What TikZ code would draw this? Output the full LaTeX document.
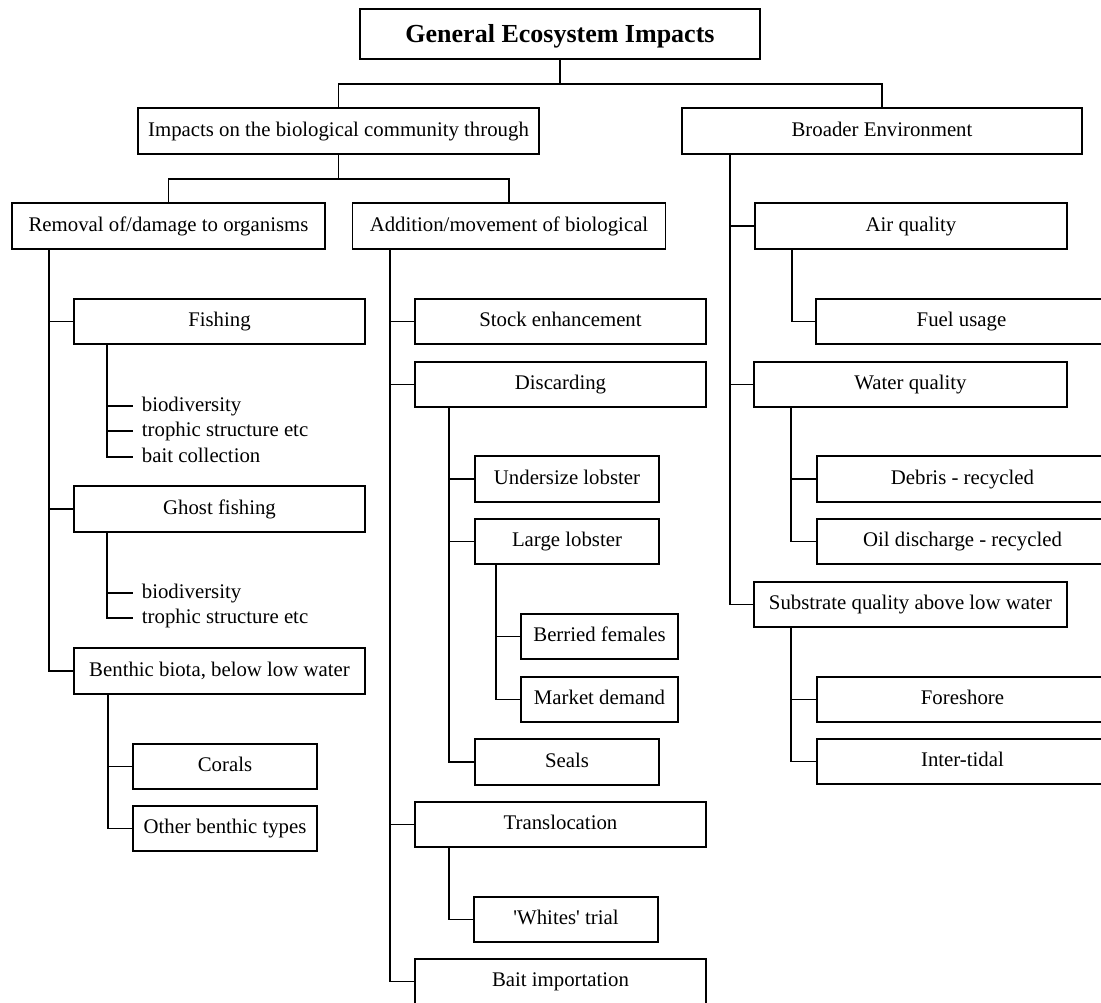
\documentclass[tikz,border=0pt]{standalone}
\usepackage{fontspec}
\setmainfont{Liberation Serif}
\usepackage{tikz}
\pgfdeclarelayer{bg}
\pgfsetlayers{bg,main}

\begin{document}
\begin{tikzpicture}[x=1pt, y=-1pt, line width=1.8pt,
    box/.style={draw, rectangle, inner sep=0pt, minimum height=45.5pt,
        text height=14.5pt, text depth=4pt, font=\fontsize{20.8}{25}\selectfont},
    leaf/.style={anchor=west, inner xsep=8pt, inner ysep=0pt,
        text height=14.5pt, text depth=4.5pt, font=\fontsize{20.8}{25}\selectfont},
    link/.style={line width=1.8pt}]
        \useasboundingbox (0,0) rectangle (1101,1003);
        \clip (0,0) rectangle (1101,1003);
        \node (gen) [box, minimum width=400pt, minimum height=50pt, text height=18pt, text depth=0.5pt, font=\fontsize{26}{30}\selectfont\bfseries] at (560,34) {General Ecosystem Impacts};
        \node (imp) [box, minimum width=401pt] at (338.5,131) {Impacts on the biological community through};
        \node (bro) [box, minimum width=400pt] at (882,131) {Broader Environment};
        \node (rem) [box, minimum width=313pt] at (168.5,226) {Removal of/damage to organisms};
        \node (add) [box, minimum width=313pt] at (509,226) {Addition/movement of biological};
        \node (air) [box, minimum width=312pt] at (911,226) {Air quality};
        \node (fish) [box, minimum width=291pt] at (219.5,321.5) {Fishing};
        \node (stock) [box, minimum width=291pt] at (560.5,321.5) {Stock enhancement};
        \node (fuel) [box, minimum width=291pt] at (961.5,321.5) {Fuel usage};
        \node (disc) [box, minimum width=291pt] at (560.5,384.5) {Discarding};
        \node (water) [box, minimum width=313pt] at (910.5,384.5) {Water quality};
        \node (fbio) [leaf] at (133,406) {biodiversity};
        \node (ftro) [leaf] at (133,431) {trophic structure etc};
        \node (fbait) [leaf] at (133,457) {bait collection};
        \node (under) [box, minimum width=184pt] at (567,479) {Undersize lobster};
        \node (debris) [box, minimum width=291pt] at (962.5,479) {Debris - recycled};
        \node (ghost) [box, minimum width=291pt] at (219.5,509) {Ghost fishing};
        \node (large) [box, minimum width=184pt] at (567,541.5) {Large lobster};
        \node (oil) [box, minimum width=291pt] at (962.5,541.5) {Oil discharge - recycled};
        \node (gbio) [leaf] at (133,593) {biodiversity};
        \node (gtro) [leaf] at (133,618) {trophic structure etc};
        \node (subs) [box, minimum width=313pt] at (910.5,604.5) {Substrate quality above low water};
        \node (berr) [box, minimum width=157pt] at (599.5,636.5) {Berried females};
        \node (benth) [box, minimum width=291pt] at (219.5,671) {Benthic biota, below low water};
        \node (mark) [box, minimum width=157pt] at (599.5,699.5) {Market demand};
        \node (fore) [box, minimum width=291pt] at (962.5,699.5) {Foreshore};
        \node (seals) [box, minimum width=184pt] at (567,762) {Seals};
        \node (inter) [box, minimum width=291pt] at (962.5,761.5) {Inter-tidal};
        \node (coral) [box, minimum width=184pt] at (225,766.5) {Corals};
        \node (trans) [box, minimum width=291pt] at (560.5,824.5) {Translocation};
        \node (other) [box, minimum width=184pt] at (225,828.5) {Other benthic types};
        \node (whites) [box, minimum width=184pt] at (566,919.5) {\textquotesingle Whites\textquotesingle{} trial};
        \node (bait) [box, minimum width=291pt] at (560.5,981.5) {Bait importation};
        \begin{pgfonlayer}{bg}
                \draw [link] (gen.south) -- ++(0,24) coordinate (top);
                \draw [link] (imp.north) |- (top) -| (bro.north);
                \draw [link] (imp.south) -- ++(0,24) coordinate (mid);
                \draw [link] (rem.north) |- (mid) -| (add.north);
                \foreach \c in {fish,ghost,benth}
                        \draw [link] ([xshift=38pt]rem.south west) |- (\c.west);
                \foreach \c in {stock,disc,trans,bait}
                        \draw [link] ([xshift=38.5pt]add.south west) |- (\c.west);
                \foreach \c in {air,water,subs}
                        \draw [link] ([xshift=49pt]bro.south west) |- (\c.west);
                \foreach \c in {fbio,ftro,fbait}
                        \draw [link] ([xshift=34pt]fish.south west) |- (\c.west);
                \foreach \c in {gbio,gtro}
                        \draw [link] ([xshift=34pt]ghost.south west) |- (\c.west);
                \foreach \c in {coral,other}
                        \draw [link] ([xshift=35pt]benth.south west) |- (\c.west);
                \foreach \c in {under,large,seals}
                        \draw [link] ([xshift=35pt]disc.south west) |- (\c.west);
                \foreach \c in {berr,mark}
                        \draw [link] ([xshift=21.5pt]large.south west) |- (\c.west);
                \draw [link] ([xshift=35pt]trans.south west) |- (whites.west);
                \draw [link] ([xshift=38pt]air.south west) |- (fuel.west);
                \foreach \c in {debris,oil}
                        \draw [link] ([xshift=38pt]water.south west) |- (\c.west);
                \foreach \c in {fore,inter}
                        \draw [link] ([xshift=38pt]subs.south west) |- (\c.west);
        \end{pgfonlayer}
\end{tikzpicture}
\end{document}
